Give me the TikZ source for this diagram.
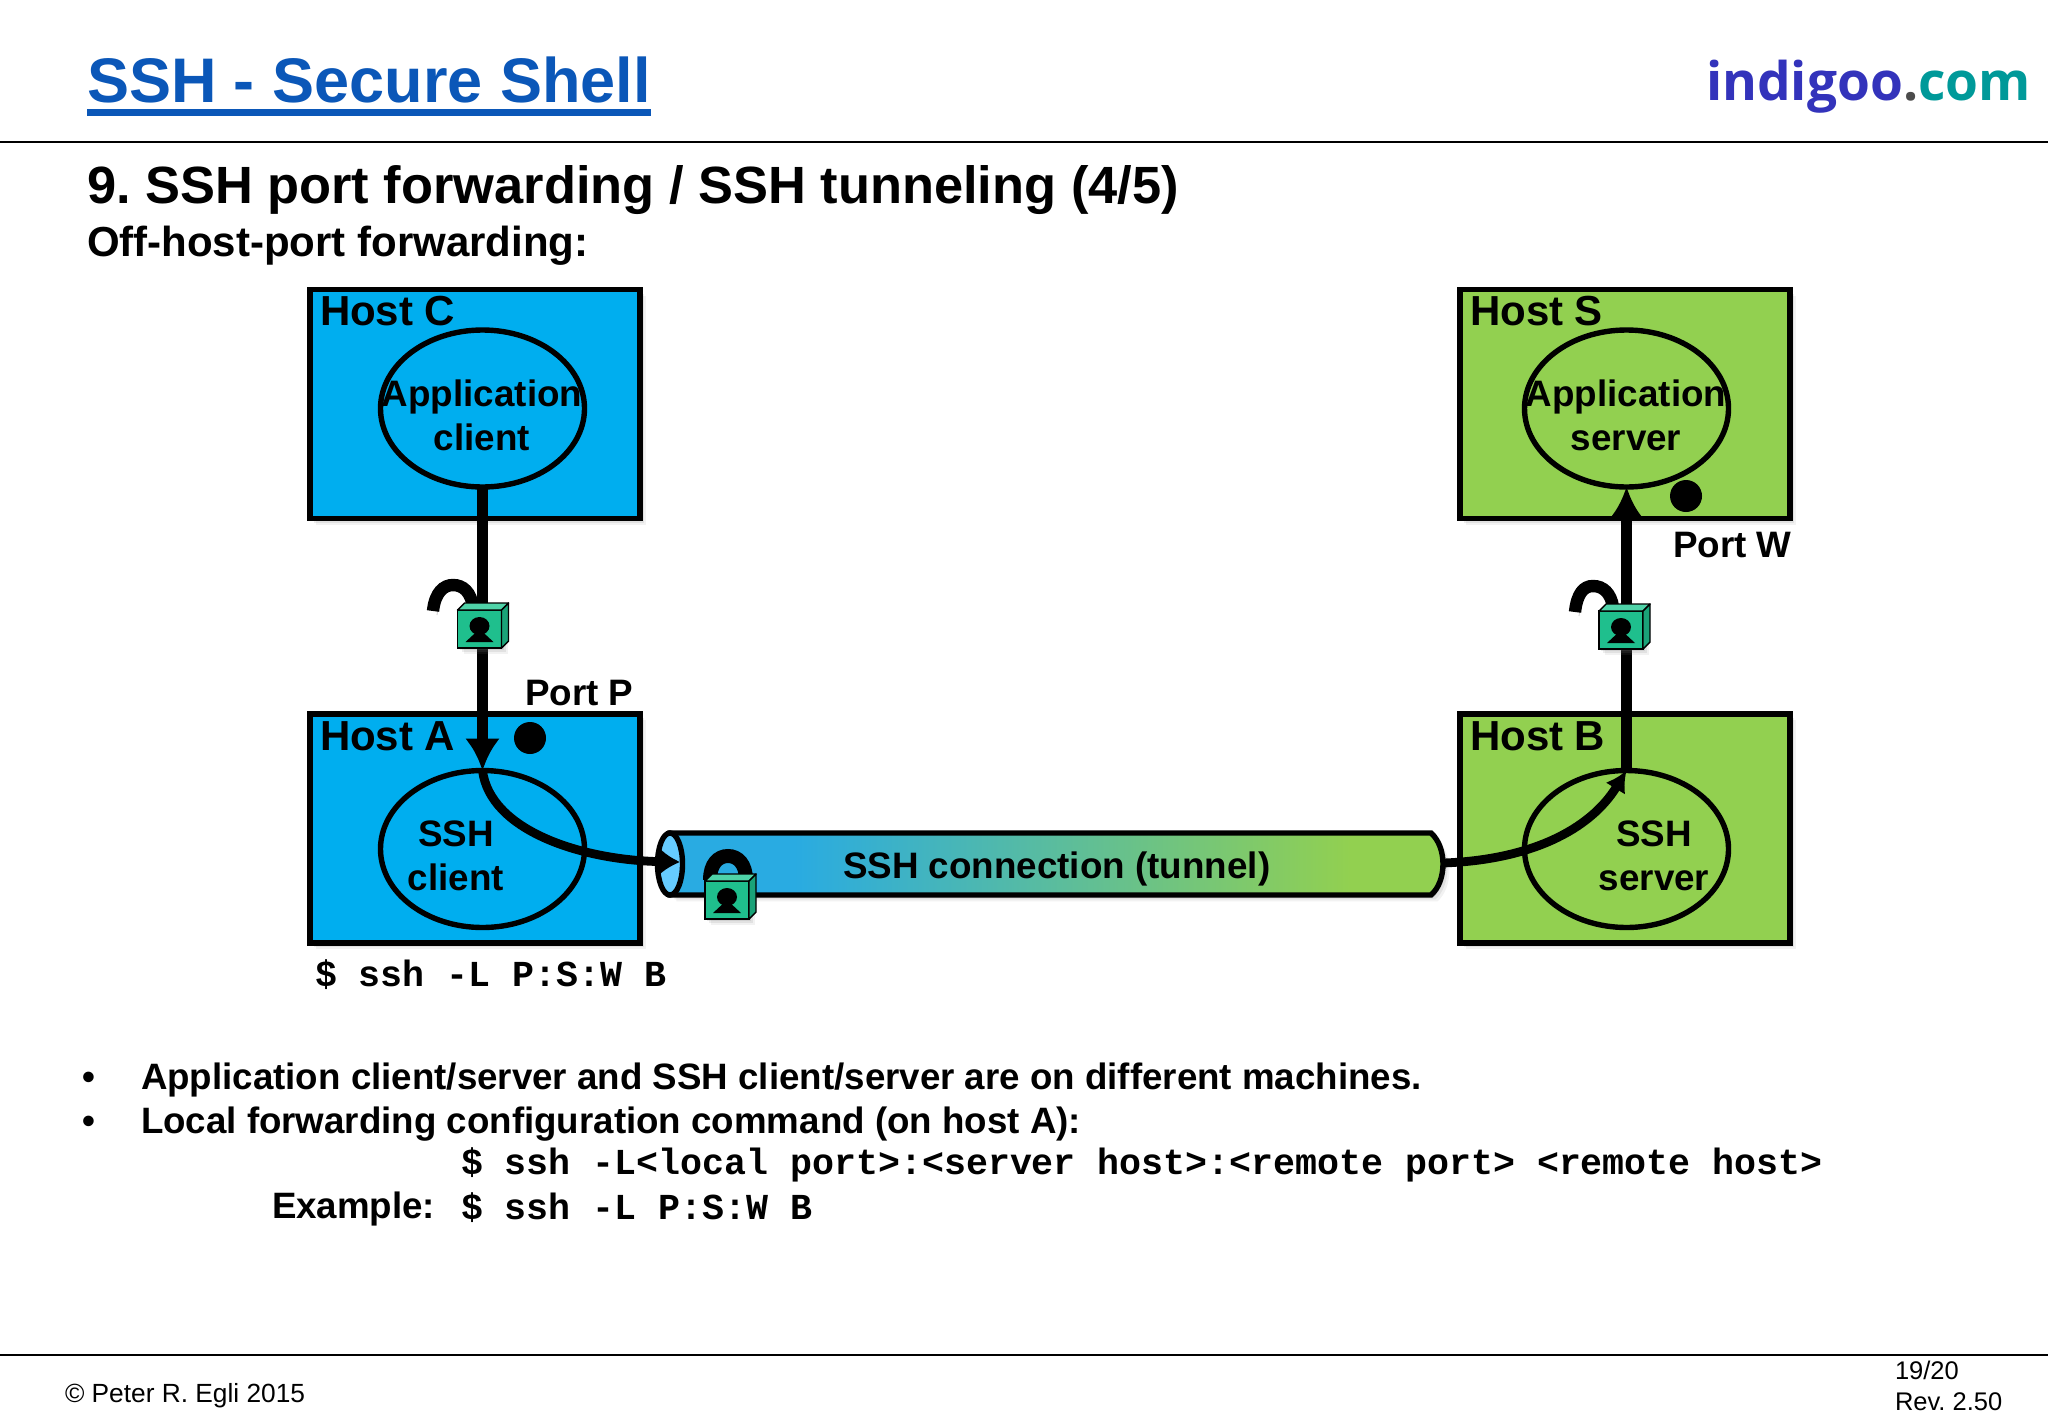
\documentclass[tikz,border=0pt]{standalone}
\usepackage{fontspec}
\setmainfont{Liberation Sans}
\setmonofont{Liberation Mono}
\newfontfamily\logofont{Open Sans}
\usepackage{xcolor}
\usepackage{tikz}
\usetikzlibrary{arrows.meta, calc, shapes.geometric, shadows}

\definecolor{titleblue}{HTML}{0B57B8}
\definecolor{logoblue}{HTML}{3333BB}
\definecolor{logoteal}{HTML}{009999}
\definecolor{hostblue}{HTML}{00AEEF}
\definecolor{hostgreen}{HTML}{92D050}
\definecolor{tunnelblue}{HTML}{29ABE2}
\definecolor{tunnelend}{HTML}{66CCFF}
\definecolor{lockgreen}{HTML}{1FBF8D}
\definecolor{locklight}{HTML}{4FD3A8}

\pgfdeclarehorizontalshading{tunnelshade}{100bp}{color(0bp)=(tunnelblue); color(33bp)=(tunnelblue); color(69bp)=(hostgreen); color(100bp)=(hostgreen)}

% one padlock body, #1 = name, #2 = position
\newcommand{\padlock}[2]{
  \node (#1) [lockbox] at (#2) {};
  \draw[lockpart, fill = locklight] (#1.north west) -- ++(7,-7) -- ++(44,0) -- (#1.north east) -- cycle;
  \draw[lockpart, fill = lockgreen!85!black] (#1.north east) -- ++(7,-7) -- ++(0,38) -- (#1.south east) -- cycle;
  \fill[black] ($(#1.center)+(0,-3)$) ellipse [x radius = 10, y radius = 9];
  \fill[black] (#1.center) -- ($(#1.center)+(14,13)$) -- ($(#1.center)+(-14,13)$) -- cycle;
}

\begin{document}
\frenchspacing
\begin{tikzpicture}[ x = 0.5pt
                     , y = -0.5pt
                     , >={Latex[width=17.5pt, length=16pt]}
                     , softshadow/.style = {drop shadow={shadow xshift=1.2pt, shadow yshift=-1.2pt, opacity=0.16},
                                            drop shadow={shadow xshift=2.2pt, shadow yshift=-2.2pt, opacity=0.14},
                                            drop shadow={shadow xshift=3.2pt, shadow yshift=-3.2pt, opacity=0.1}}
                     , txt/.style = { anchor = base west, inner sep = 0pt, outer sep = 0pt }
                     , hosttext/.style = { txt, font = \fontsize{21}{23}\selectfont\bfseries }
                     , smalltext/.style = { align = center, inner sep = 0pt
                                          , font = \fontsize{18.4}{22}\selectfont\bfseries }
                     , bodytext/.style = { txt, font = \fontsize{18.35}{22}\selectfont\bfseries }
                     , cmdtext/.style = { txt, font = \fontsize{18.3}{22}\selectfont\ttfamily\bfseries }
                     , foottext/.style = { txt, font = \fontsize{12.75}{14}\selectfont }
                     , hostbox/.style = { rectangle, draw = black, line width = 2.75pt, inner sep = 0pt
                                        , outer sep = 0pt, minimum width = 165pt, minimum height = 114.5pt
                                        , softshadow }
                     , procshape/.style = { ellipse, draw = black, line width = 2.7pt, inner sep = 0pt
                                          , outer sep = 0pt, minimum width = 102pt, minimum height = 78.5pt }
                     , portdot/.style = { circle, fill = black, inner sep = 0pt, minimum size = 16pt }
                     , lockbox/.style = { rectangle, draw = black, line width = 0.7pt, fill = lockgreen
                                        , inner sep = 0pt, outer sep = 0pt, minimum width = 22pt
                                        , minimum height = 19pt, softshadow }
                     , lockpart/.style = { draw = black, line width = 0.7pt, line join = round }
                     , shackle/.style = { draw = black, line width = 6.2pt
                                        , preaction = {draw=black!20, transform canvas={xshift=2pt, yshift=-2pt}} }
                     , mainlink/.style = { ->, draw = black, line width = 5.5pt }
                     , curvelink/.style = { draw = black, line width = 4.4pt }
                     ]

  \useasboundingbox (0,0) rectangle (2048,1418);
  \fill[white] (0,0) rectangle (2048,1418);

  % header
  \node (title) [txt, text = titleblue, font = \fontsize{31.5}{36}\selectfont\bfseries] at (87,103) {SSH - Secure Shell};
  \draw[titleblue, line width = 3.2pt] (title.west |- 0,112.5) -- (title.east |- 0,112.5);
  \node (logo) [txt, font = \fontsize{26.6}{30}\selectfont\logofont\bfseries] at (1706,101)
    {\textcolor{logoblue}{indigoo}\textcolor{black!70}{.}\textcolor{logoteal}{com}};
  \draw[black, line width = 1pt] (0,141.5) -- (2048,141.5);
  \node (heading) [txt, font = \fontsize{26.2}{30}\selectfont\bfseries] at (87,203) {9. SSH port forwarding / SSH tunneling (4/5)};
  \node (subheading) [txt, font = \fontsize{21}{24}\selectfont\bfseries] at (87,256) {Off-host-port forwarding:};

  % hosts
  \node (hostc) [hostbox, fill = hostblue] at (475,404) {};
  \node (hosts) [hostbox, fill = hostgreen] at (1625,404) {};
  \node (hosta) [hostbox, fill = hostblue] at (475,828.5) {};
  \node (hostb) [hostbox, fill = hostgreen] at (1625,828.5) {};

  \node (hostclabel) [hosttext] at (320,325) {Host C};
  \node (hostslabel) [hosttext] at (1470,325) {Host S};
  \node (hostalabel) [hosttext] at (320,750) {Host A};
  \node (hostblabel) [hosttext] at (1470,750) {Host B};

  % tunnel
  \draw[black, line width = 2.7pt, shade, shading = tunnelshade, softshadow]
    (670,833) -- (1431,833) .. controls (1439,840) and (1443,852) .. (1443,864)
    .. controls (1443,876) and (1439,888) .. (1431,895) -- (670,895) -- cycle;
  \node (tunnelin) [ellipse, draw = black, fill = tunnelend, line width = 2.7pt, inner sep = 0pt, outer sep = 0pt
                   , minimum width = 12.5pt, minimum height = 31pt] at (670,864) {};
  \node (tunnellabel) [txt, font = \fontsize{18.4}{22}\selectfont\bfseries] at (843,878) {SSH connection (tunnel)};
  \coordinate (tunnelentry) at (680,862);
  \coordinate (tunnelexit) at (1443,863);

  % processes
  \node (appclient) [procshape] at (482.5,408.5) {};
  \node (appserver) [procshape] at (1626.5,408.5) {};
  \node (sshclient) [procshape] at (482.5,849) {};
  \node (sshserver) [procshape] at (1626.5,849) {};

  \node (appclientlabel) [smalltext] at (482,415) {Application\\client};
  \node (appserverlabel) [smalltext] at (1626,415) {Application\\server};
  \node (sshclientlabel) [smalltext] at (456,856) {SSH\\client};
  \node (sshserverlabel) [smalltext] at (1654,856) {SSH\\server};

  % ports
  \node (portp) [portdot] at (530,738) {};
  \node (portw) [portdot] at (1686,496) {};
  \node (portplabel) [txt, font = \fontsize{18.4}{22}\selectfont\bfseries] at (525,705) {Port P};
  \node (portwlabel) [txt, font = \fontsize{18.4}{22}\selectfont\bfseries] at (1673,557) {Port W};

  % connections
  \draw[mainlink] (appclient.south) -- (sshclient.north);
  \draw[mainlink] (sshserver.north) -- (appserver.south);
  \draw[curvelink, -{Latex[width=15pt, length=11pt]}] (sshclient.north)
    .. controls (490,830) and (580,860) .. (tunnelentry);
  \draw[curvelink, -{Latex[width=11.5pt, length=10.5pt]}] (tunnelexit)
    .. controls (1530,860) and (1590,830) .. (sshserver.north);

  % locks
  \draw[shackle] (433,611) .. controls (435,592) and (444,585) .. (453,585) .. controls (463,585) and (471,592) .. (473,607);
  \padlock{lockca}{479.5,629}
  \draw[shackle] (1575,612) .. controls (1577,593) and (1584,586) .. (1593,586) .. controls (1603,586) and (1611,593) .. (1613,607);
  \padlock{lockbs}{1621,630}
  \draw[shackle, line width = 7pt] (710,880) .. controls (710,864) and (718,856) .. (728,856) .. controls (738,856) and (746,864) .. (746,880);
  \padlock{locktunnel}{727,900}

  % command and notes
  \node (hostacmd) [cmdtext] at (315,986) {\$ ssh -L P:S:W B};
  \node (bulletone) [bodytext] at (82,1089) {•};
  \node (noteone) [bodytext] at (141,1089) {Application client/server and SSH client/server are on different machines.};
  \node (bullettwo) [bodytext] at (82,1133) {•};
  \node (notetwo) [bodytext] at (141,1133) {Local forwarding configuration command (on host A):};
  \node (cmdgeneric) [cmdtext] at (461,1174.5) {\$ ssh -L<local port>:<server host>:<remote port> <remote host>};
  \node (examplelabel) [bodytext] at (272,1218) {Example:};
  \node (cmdexample) [cmdtext] at (461,1219) {\$ ssh -L P:S:W B};

  % footer
  \draw[black, line width = 1pt] (0,1354.5) -- (2048,1354.5);
  \node (copyright) [foottext, font = \fontsize{13.15}{15}\selectfont] at (65,1402) {© Peter R. Egli 2015};
  \node (pageno) [foottext] at (1895,1379) {19/20};
  \node (revision) [foottext] at (1895,1410) {Rev. 2.50};

\end{tikzpicture}
\end{document}
